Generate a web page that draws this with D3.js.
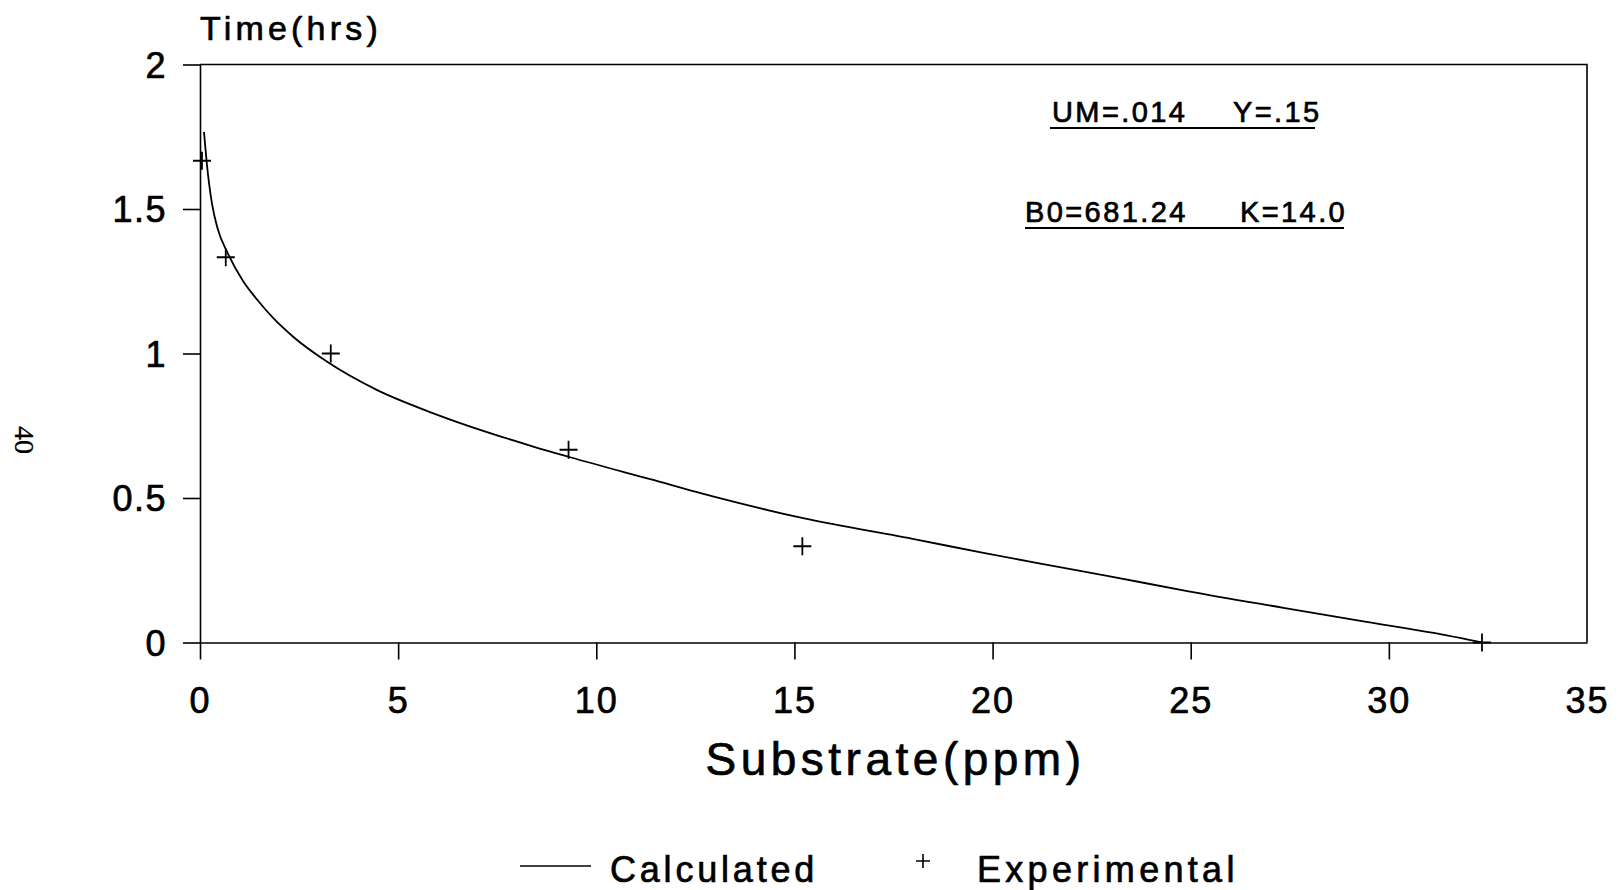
<!DOCTYPE html>
<html>
<head>
<meta charset="utf-8">
<script src="https://cdn.jsdelivr.net/npm/d3@7"></script>
<style>
  html, body { margin: 0; padding: 0; background: #fff; }
  svg { display: block; font-family: 'Liberation Sans', Arial, sans-serif; }
  svg text { stroke: #000; stroke-width: 0.7px; fill: #000; }
</style>
</head>
<body>
<div id="chart"></div>
<script>
// calculated curve
const calcSubstrate = [0.10, 0.17, 0.30, 0.45, 0.69, 1.09, 1.45, 1.85, 2.35, 3.20, 4.46, 5.89, 8.41, 9.34, 11.36, 13.04, 15.22, 18.08, 19.77, 21.45, 22.96, 24.98, 27.34, 29.36, 31.13, 32.35];
const calcTime = [1.767, 1.660, 1.520, 1.430, 1.350, 1.250, 1.185, 1.122, 1.058, 0.972, 0.874, 0.793, 0.678, 0.641, 0.565, 0.502, 0.430, 0.356, 0.310, 0.267, 0.229, 0.176, 0.120, 0.073, 0.033, 0.0];

const expSubstrate = [0.05, 0.65, 3.3, 9.3, 15.2, 32.35];
const expTime = [1.667, 1.333, 1.0, 0.667, 0.333, 0.0];

const xTicks = [0, 5, 10, 15, 20, 25, 30, 35];
const yTicks = [0, 0.5, 1, 1.5, 2];

const params = [
  ['UM=.014', 'Y=.15'],
  ['B0=681.24', 'K=14.0']
];

const width = 1621;
const height = 890;
const margin = { top: 64.5, right: 34, bottom: 247.5, left: 200 };

const svg = d3.select('#chart').append('svg').attr('width', width).attr('height', height);
svg.append('rect').attr('width', width).attr('height', height).attr('fill', '#fff');

const x = d3.scaleLinear().domain([0, 35]).range([margin.left, width - margin.right]);
const y = d3.scaleLinear().domain([0, 2]).range([height - margin.bottom, margin.top]);

const tickLen = 17;

// axes
const xAxis = svg
  .append('g')
  .attr('transform', `translate(0,${y(0)})`)
  .call(d3.axisBottom(x).tickValues(xTicks).tickSize(tickLen).tickSizeOuter(0).tickFormat(d3.format('~g')));
xAxis.selectAll('.tick').filter((d) => d === 35).select('line').remove();
xAxis
  .selectAll('.tick text')
  .attr('y', 70.5)
  .attr('dy', 0)
  .attr('font-size', 36)
  .attr('letter-spacing', 2)
  .attr('font-family', "'Liberation Sans', Arial, sans-serif");

const yAxis = svg
  .append('g')
  .attr('transform', `translate(${x(0)},0)`)
  .call(d3.axisLeft(y).tickValues(yTicks).tickSize(tickLen).tickSizeOuter(0).tickPadding(16).tickFormat(d3.format('~g')));
yAxis
  .selectAll('.tick text')
  .attr('dy', '0.35em')
  .attr('font-size', 36)
  .attr('letter-spacing', 1.5)
  .attr('font-family', "'Liberation Sans', Arial, sans-serif");

svg.selectAll('.domain, .tick line').attr('stroke', '#000').attr('stroke-width', 1.6);

// frame top and right
svg
  .append('path')
  .attr('d', d3.line()([[x(0), y(2)], [x(35), y(2)], [x(35), y(0)]]))
  .attr('fill', 'none')
  .attr('stroke', '#000')
  .attr('stroke-width', 1.6);

// calculated curve
const curve = calcSubstrate.map((s, i) => [s, calcTime[i]]);
svg
  .append('path')
  .datum(curve)
  .attr('fill', 'none')
  .attr('stroke', '#000')
  .attr('stroke-width', 1.8)
  .attr('d', d3.line().x((d) => x(d[0])).y((d) => y(d[1])).curve(d3.curveMonotoneX));

// experimental points
const plus = (s) => `M${-s},0H${s}M0,${-s}V${s}`;
svg
  .selectAll('.exp')
  .data(expSubstrate.map((s, i) => [s, expTime[i]]))
  .enter()
  .append('path')
  .attr('class', 'exp')
  .attr('transform', (d) => `translate(${x(d[0])},${y(d[1])})`)
  .attr('d', plus(9))
  .attr('fill', 'none')
  .attr('stroke', '#000')
  .attr('stroke-width', 1.8);

// titles
svg
  .append('text')
  .attr('x', 200)
  .attr('y', 40)
  .attr('font-size', 34)
  .attr('letter-spacing', 4.2)
  .text('Time(hrs)');

svg
  .append('text')
  .attr('x', (x(0) + x(35)) / 2 + 2)
  .attr('y', 775)
  .attr('text-anchor', 'middle')
  .attr('font-size', 46)
  .attr('letter-spacing', 4.5)
  .text('Substrate(ppm)');

// parameter notes
const noteRows = [
  { y: 122, xs: [1052, 1233], line: [1050, 1315] },
  { y: 222, xs: [1025, 1240], line: [1025, 1344] }
];
noteRows.forEach((row, i) => {
  params[i].forEach((t, j) => {
    svg
      .append('text')
      .attr('x', row.xs[j])
      .attr('y', row.y)
      .attr('font-size', 29)
      .attr('letter-spacing', 2.4)
      .text(t);
  });
  svg
    .append('line')
    .attr('x1', row.line[0])
    .attr('x2', row.line[1])
    .attr('y1', row.y + 6)
    .attr('y2', row.y + 6)
    .attr('stroke', '#000')
    .attr('stroke-width', 1.8);
});

// legend
svg.append('line').attr('x1', 520).attr('x2', 591).attr('y1', 866).attr('y2', 866).attr('stroke', '#000').attr('stroke-width', 1.6);
svg.append('text').attr('x', 610).attr('y', 882).attr('font-size', 36).attr('letter-spacing', 3.8).text('Calculated');
svg
  .append('path')
  .attr('transform', 'translate(923,861)')
  .attr('d', plus(7))
  .attr('stroke', '#000')
  .attr('stroke-width', 1.6);
svg.append('text').attr('x', 977).attr('y', 882).attr('font-size', 36).attr('letter-spacing', 4.3).text('Experimental');

// page number in the margin
svg
  .append('text')
  .attr('transform', 'translate(15,440) rotate(90)')
  .attr('text-anchor', 'middle')
  .attr('font-family', "'Liberation Serif', 'Times New Roman', serif")
  .attr('font-size', 28)
  .style('stroke-width', '0.3px')
  .text('40');
</script>
</body>
</html>
